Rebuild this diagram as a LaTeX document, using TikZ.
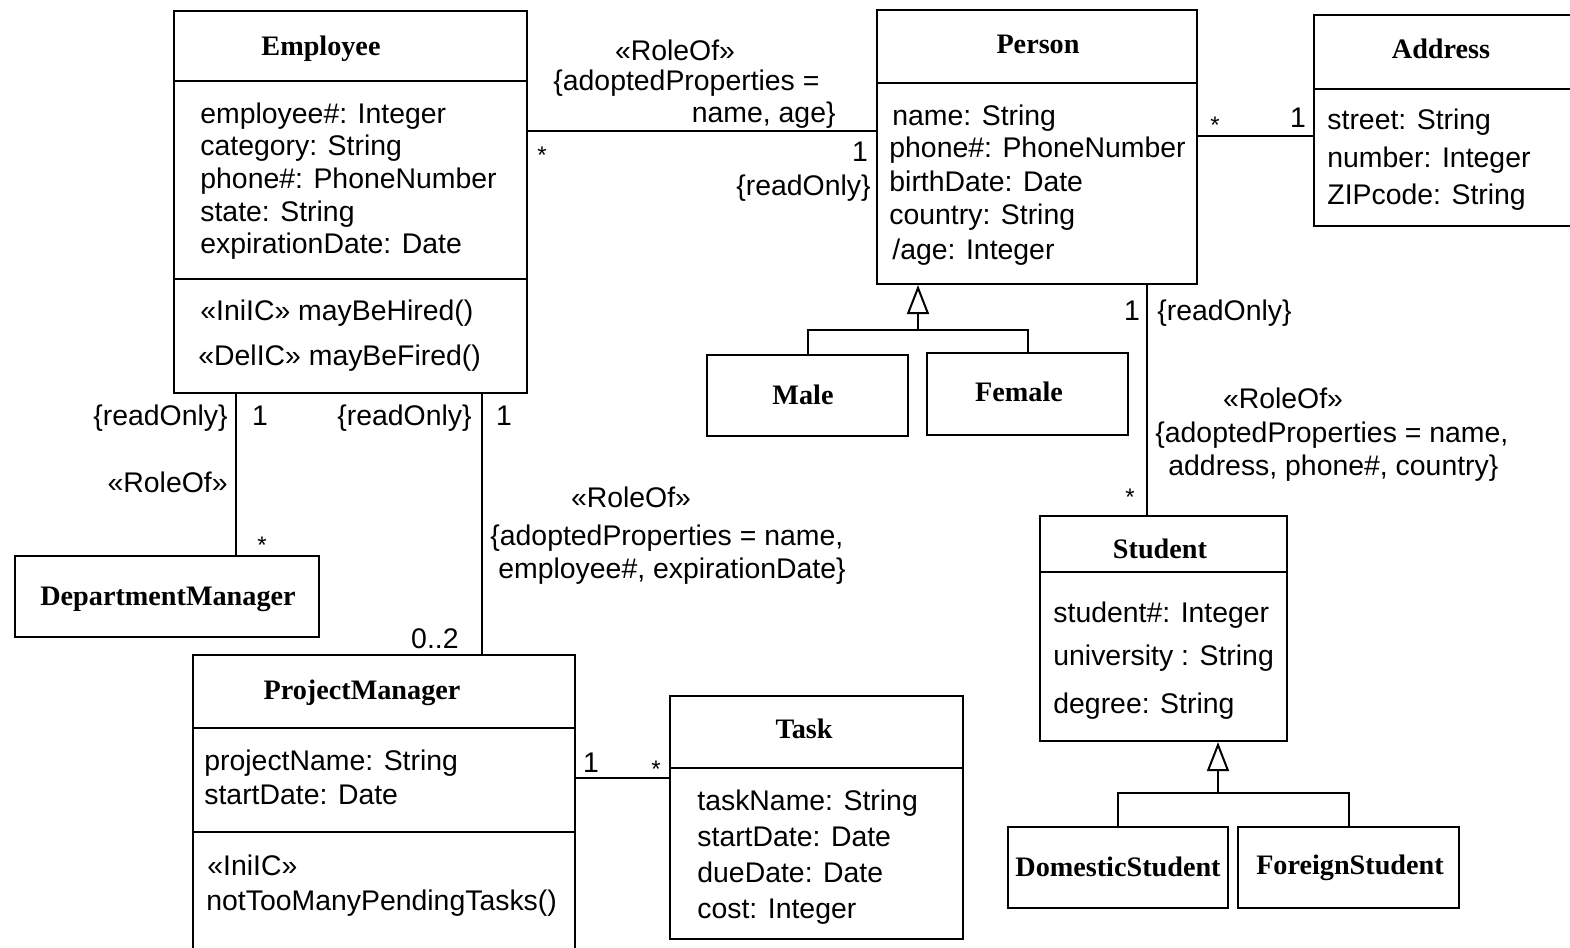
\documentclass[tikz,border=0pt]{standalone}
\usepackage{fontspec}
\setmainfont{Liberation Sans}
\newfontfamily\clsf{Liberation Serif}
\usetikzlibrary{fit,arrows.meta}
\tikzset{
  x=0.5pt, y=-0.5pt,
  cls/.style={draw, line width=1.1pt, inner sep=0pt},
  div/.style={line width=1.1pt},
  assoc/.style={line width=1pt},
  gen/.style={line width=1pt, -{Triangle[open,length=14.5pt,width=11pt,line width=1pt]}},
  txt/.style={anchor=base west, inner sep=0pt, font=\fontsize{14.2}{17}\selectfont},
  lbl/.style={inner sep=0pt, font=\fontsize{14.2}{17}\selectfont},
  star/.style={inner sep=0pt, anchor=base, font=\fontsize{12}{14}\selectfont},
  nm/.style={anchor=base, inner sep=0pt, font=\clsf\bfseries\fontsize{14.1}{17}\selectfont}
}
\begin{document}
\begin{tikzpicture}
\useasboundingbox (0,0) rectangle (1570,948);

% ---------- Employee ----------
\node[cls, fit={(174,11) (527,393)}] (emp) {};
\draw[div] (174,81) -- (527,81);
\draw[div] (174,279) -- (527,279);
\node[nm] (emp-n) at (321,55) {Employee};
\node[txt] (emp-a1) at (200,123) {employee\#: Integer};
\node[txt] (emp-a2) at (200,155) {category: String};
\node[txt] (emp-a3) at (200,188) {phone\#: PhoneNumber};
\node[txt] (emp-a4) at (200,221) {state: String};
\node[txt] (emp-a5) at (200,253) {expirationDate: Date};
\node[txt] (emp-o1) at (200,320) {«IniIC» mayBeHired()};
\node[txt] (emp-o2) at (198,365) {«DelIC» mayBeFired()};

% ---------- Person ----------
\node[cls, fit={(877,10) (1197,284)}] (person) {};
\draw[div] (877,83) -- (1197,83);
\node[nm] (per-n) at (1038,53) {Person};
\node[txt] (per-a1) at (892,125) {name: String};
\node[txt] (per-a2) at (889,157) {phone\#: PhoneNumber};
\node[txt] (per-a3) at (889,191) {birthDate: Date};
\node[txt] (per-a4) at (889,224) {country: String};
\node[txt] (per-a5) at (892,259) {/age: Integer};

% ---------- Address ----------
\node[cls, fit={(1314,15) (1580,226)}] (addr) {};
\draw[div] (1314,89) -- (1580,89);
\node[nm] (addr-n) at (1441,58) {Address};
\node[txt] (addr-a1) at (1327,129) {street: String};
\node[txt] (addr-a2) at (1327,167) {number: Integer};
\node[txt] (addr-a3) at (1327,204) {ZIPcode: String};

% ---------- Male / Female ----------
\node[cls, fit={(707,355) (908,436)}] (male) {};
\node[nm] (male-n) at (803,404) {Male};
\node[cls, fit={(927,353) (1128,435)}] (female) {};
\node[nm] (female-n) at (1019,401) {Female};

% ---------- DepartmentManager ----------
\node[cls, fit={(15,556) (319,637)}] (dm) {};
\node[nm] (dm-n) at (168,605) {DepartmentManager};

% ---------- Student ----------
\node[cls, fit={(1040,516) (1287,741)}] (student) {};
\draw[div] (1040,572) -- (1287,572);
\node[nm] (stu-n) at (1160,558) {Student};
\node[txt] (stu-a1) at (1053,622) {student\#: Integer};
\node[txt] (stu-a2) at (1053,665) {university : String};
\node[txt] (stu-a3) at (1053,713) {degree: String};

% ---------- Domestic / Foreign ----------
\node[cls, fit={(1008,827) (1228,908)}] (dom) {};
\node[nm] (dom-n) at (1118,876) {DomesticStudent};
\node[cls, fit={(1238,827) (1459,908)}] (for) {};
\node[nm] (for-n) at (1350,874) {ForeignStudent};

% ---------- ProjectManager ----------
\node[cls, fit={(193,655) (575,955)}] (pm) {};
\draw[div] (193,728) -- (575,728);
\draw[div] (193,832) -- (575,832);
\node[nm] (pm-n) at (362,699) {ProjectManager};
\node[txt] (pm-a1) at (204,770) {projectName: String};
\node[txt] (pm-a2) at (204,804) {startDate: Date};
\node[txt] (pm-o1) at (207,875) {«IniIC»};
\node[txt] (pm-o2) at (206,910) {notTooManyPendingTasks()};

% ---------- Task ----------
\node[cls, fit={(670,696) (963,939)}] (task) {};
\draw[div] (670,768) -- (963,768);
\node[nm] (task-n) at (804,738) {Task};
\node[txt] (task-a1) at (697,810) {taskName: String};
\node[txt] (task-a2) at (697,846) {startDate: Date};
\node[txt] (task-a3) at (697,882) {dueDate: Date};
\node[txt] (task-a4) at (697,918) {cost: Integer};

% ---------- helper coordinates ----------
\coordinate (y-ep) at (0,131);
\coordinate (y-pa) at (0,136);
\coordinate (x-ed) at (236,0);
\coordinate (x-epm) at (482,0);
\coordinate (x-ps) at (1147,0);
\coordinate (y-pt) at (0,778);
\coordinate (pj) at (918,330);
\coordinate (sj) at (1218,793);

% ---------- connectors ----------
\draw[assoc] (emp.east |- y-ep) -- (person.west |- y-ep);
\draw[assoc] (person.east |- y-pa) -- (addr.west |- y-pa);
\draw[assoc] (emp.south -| x-ed) -- (dm.north -| x-ed);
\draw[assoc] (emp.south -| x-epm) -- (pm.north -| x-epm);
\draw[assoc] (person.south -| x-ps) -- (student.north -| x-ps);
\draw[assoc] (pm.east |- y-pt) -- (task.west |- y-pt);

\draw[assoc] (male.north) |- (pj) -| (female.north);
\draw[gen] (pj) -- (pj |- person.south);
\draw[assoc] (dom.north) |- (sj) -| (for.north);
\draw[gen] (sj) -- (sj |- student.south);

% ---------- labels: Employee - Person ----------
\node[lbl, anchor=base] (l1) at (675,60) {«RoleOf»};
\node[lbl, anchor=base west] (l2) at (553,90) {\{adoptedProperties =};
\node[lbl, anchor=base east] (l3) at (836,122) {name, age\}};
\node[star] (l4) at (542,163) {*};
\node[lbl, anchor=base] (l5) at (860,161) {1};
\node[lbl, anchor=base east] (l6) at (871,195) {\{readOnly\}};

% ---------- labels: Person - Address ----------
\node[star] (l7) at (1215,133) {*};
\node[lbl, anchor=base] (l8) at (1298,127) {1};

% ---------- labels: Employee - DepartmentManager ----------
\node[lbl, anchor=base east] (l9) at (228,425) {\{readOnly\}};
\node[lbl, anchor=base] (l10) at (260,425) {1};
\node[lbl, anchor=base east] (l11) at (228,492) {«RoleOf»};
\node[star] (l12) at (262,553) {*};

% ---------- labels: Employee - ProjectManager ----------
\node[lbl, anchor=base east] (l13) at (472,425) {\{readOnly\}};
\node[lbl, anchor=base] (l14) at (504,425) {1};
\node[lbl, anchor=base east] (l15) at (459,648) {0..2};
\node[lbl, anchor=base] (l16) at (631,507) {«RoleOf»};
\node[lbl, anchor=base west] (l17) at (490,545) {\{adoptedProperties = name,};
\node[lbl, anchor=base west] (l18) at (498,578) {employee\#, expirationDate\}};

% ---------- labels: Person - Student ----------
\node[lbl, anchor=base] (l19) at (1132,320) {1};
\node[lbl, anchor=base west] (l20) at (1157,320) {\{readOnly\}};
\node[lbl, anchor=base] (l21) at (1283,408) {«RoleOf»};
\node[lbl, anchor=base west] (l22) at (1155,442) {\{adoptedProperties = name,};
\node[lbl, anchor=base west] (l23) at (1168,475) {address, phone\#, country\}};
\node[star] (l24) at (1130,505) {*};

% ---------- labels: ProjectManager - Task ----------
\node[lbl, anchor=base] (l25) at (591,772) {1};
\node[star] (l26) at (656,777) {*};
\end{tikzpicture}
\end{document}
